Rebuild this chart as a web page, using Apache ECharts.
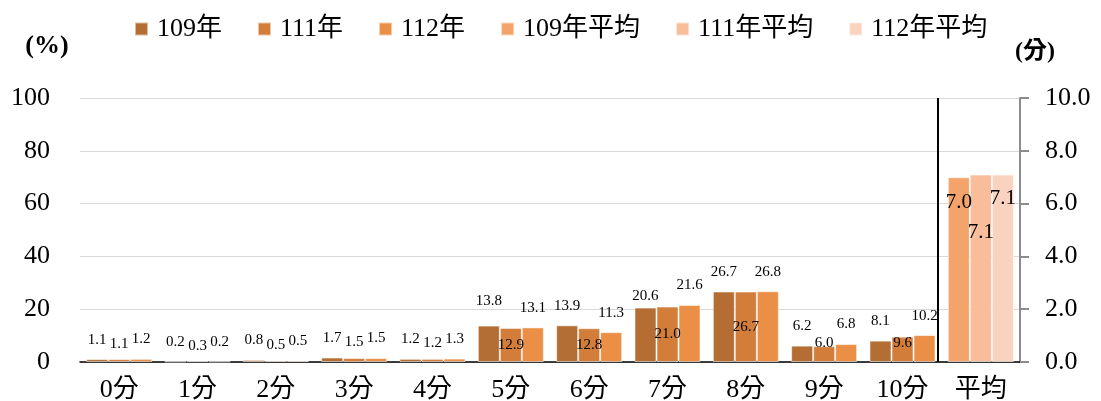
<!DOCTYPE html>
<html><head><meta charset="utf-8">
<script src="https://cdn.jsdelivr.net/npm/echarts@6/dist/echarts.min.js"></script>
<style>html,body{margin:0;padding:0;background:#fff}#c{width:1101px;height:401px}</style>
</head><body><div id="c"></div>
<script>
const categories = ['0分','1分','2分','3分','4分','5分','6分','7分','8分','9分','10分','平均'];
const leftTicks = [0, 20, 40, 60, 80, 100];
const rightTicks = [0, 2, 4, 6, 8, 10];
const pct109 = [1.1, 0.2, 0.8, 1.7, 1.2, 13.8, 13.9, 20.6, 26.7, 6.2, 8.1];
const pct111 = [1.1, 0.3, 0.5, 1.5, 1.2, 12.9, 12.8, 21.0, 26.7, 6.0, 9.6];
const pct112 = [1.2, 0.2, 0.5, 1.5, 1.3, 13.1, 11.3, 21.6, 26.8, 6.8, 10.2];
const avg109 = 7.0;
const avg111 = 7.1;
const avg112 = 7.1;
const seriesNames = ['109年','111年','112年','109年平均','111年平均','112年平均'];

const colors = ['#B46E33','#D27D3A','#EA8F45','#F4A46A','#F8BD9B','#F9D3C0'];
const FONT = "'Liberation Serif','Times New Roman','Noto Sans CJK TC',serif";
const fmt = p => (typeof p.value === 'number' ? p.value.toFixed(1) : '');

// label placement tweaks (style only)
const tweaks = {
  '109年': {5: {distance: 17}, 7: {distance: 4}},
  '111年': {0:{distance:8},1:{distance:8},2:{distance:8},3:{distance:8},4:{distance:8},
            5:{position:'inside'},6:{position:'inside'},7:{position:'inside'},8:{position:'inside'},
            9:{position:'inside', offset:[0,-11]},10:{position:'inside', offset:[0,-6]}},
  '112年': {},
};

function pctData(name, arr) {
  const out = arr.map((v, i) => {
    const t = tweaks[name][i];
    return t ? {value: v, label: t} : v;
  });
  out.push('-');
  return out;
}
function avgData(v) {
  const out = categories.slice(0, categories.length - 1).map(() => '-');
  out.push(v);
  return out;
}

const baseBar = {
  type: 'bar', barGap: '0%', barCategoryGap: '15.7%',
  itemStyle: {borderColor: 'rgba(255,255,255,0.55)', borderWidth: 1},
};
const smallLabel = {show: true, position: 'top', distance: 12, formatter: fmt,
  fontFamily: FONT, fontSize: 15, color: '#000'};

const series = [
  Object.assign({}, baseBar, {name: seriesNames[0], stack: 'a', yAxisIndex: 0, data: pctData('109年', pct109), itemStyle: Object.assign({}, baseBar.itemStyle, {color: colors[0]}), label: smallLabel}),
  Object.assign({}, baseBar, {name: seriesNames[1], stack: 'b', yAxisIndex: 0, data: pctData('111年', pct111), itemStyle: Object.assign({}, baseBar.itemStyle, {color: colors[1]}), label: smallLabel}),
  Object.assign({}, baseBar, {name: seriesNames[2], stack: 'c', yAxisIndex: 0, data: pctData('112年', pct112), itemStyle: Object.assign({}, baseBar.itemStyle, {color: colors[2]}), label: smallLabel}),
  Object.assign({}, baseBar, {name: seriesNames[3], stack: 'a', yAxisIndex: 1, data: avgData(avg109), itemStyle: Object.assign({}, baseBar.itemStyle, {color: colors[3]}),
    label: {show: true, position: 'insideTop', distance: 15, formatter: fmt, fontFamily: FONT, fontSize: 21, color: '#000'}}),
  Object.assign({}, baseBar, {name: seriesNames[4], stack: 'b', yAxisIndex: 1, data: avgData(avg111), itemStyle: Object.assign({}, baseBar.itemStyle, {color: colors[4]}),
    label: {show: true, position: 'insideTop', distance: 47, formatter: fmt, fontFamily: FONT, fontSize: 21, color: '#000'}}),
  Object.assign({}, baseBar, {name: seriesNames[5], stack: 'c', yAxisIndex: 1, data: avgData(avg112), itemStyle: Object.assign({}, baseBar.itemStyle, {color: colors[5]}),
    label: {show: true, position: 'insideTop', distance: 13, formatter: fmt, fontFamily: FONT, fontSize: 21, color: '#000'}}),
  {
    type: 'line', name: 'sep', xAxisIndex: 1, yAxisIndex: 0, data: [], silent: true,
    markLine: {symbol: 'none', silent: true, label: {show: false},
      lineStyle: {color: '#000', width: 2, type: 'solid'},
      data: [{xAxis: 10.95}]}
  }
];

const chart = echarts.init(document.getElementById('c'), null, {renderer: 'canvas'});
chart.setOption({
  animation: false,
  backgroundColor: '#fff',
  color: colors,
  textStyle: {fontFamily: FONT},
  grid: {left: 80, right: 81, top: 98, bottom: 39, containLabel: false, outerBoundsMode: 'none'},
  legend: {
    data: seriesNames, top: 11, left: 129, itemWidth: 13, itemHeight: 13, itemGap: 35,
    icon: 'rect',
    textStyle: {fontFamily: FONT, fontSize: 26, color: '#000', padding: [0, 0, 0, 4]}
  },
  xAxis: [
    {type: 'category', data: categories, boundaryGap: true,
     axisLine: {show: true, lineStyle: {color: '#000', width: 1.5}},
     axisTick: {show: false},
     axisLabel: {fontFamily: FONT, fontSize: 26, color: '#000', margin: 15, interval: 0}},
    {type: 'value', min: 0, max: 12, show: false}
  ],
  yAxis: [
    {type: 'value', min: leftTicks[0], max: leftTicks[leftTicks.length - 1], interval: 20,
     axisLine: {show: false}, axisTick: {show: false},
     splitLine: {show: true, lineStyle: {color: '#d9d9d9', width: 1}},
     axisLabel: {fontFamily: FONT, fontSize: 26, color: '#000', margin: 30}},
    {type: 'value', position: 'right', min: rightTicks[0], max: rightTicks[rightTicks.length - 1], interval: 2,
     axisLine: {show: true, lineStyle: {color: '#8c8c8c', width: 2}},
     axisTick: {show: true, inside: false, length: 9, lineStyle: {color: '#8c8c8c', width: 2}},
     splitLine: {show: false},
     axisLabel: {fontFamily: FONT, fontSize: 26, color: '#000', margin: 25, formatter: v => v.toFixed(1)}}
  ],
  graphic: [
    {type: 'text', x: 47, y: 46, style: {text: '(%)', font: "bold 26px 'Liberation Serif','Noto Sans CJK TC',serif", fill: '#000', align: 'center', verticalAlign: 'middle'}},
    {type: 'text', x: 1035, y: 52, style: {text: '(分)', font: "bold 24px 'Liberation Serif','Noto Sans CJK TC',serif", fill: '#000', align: 'center', verticalAlign: 'middle'}}
  ],
  series: series
});
</script>
</body></html>
